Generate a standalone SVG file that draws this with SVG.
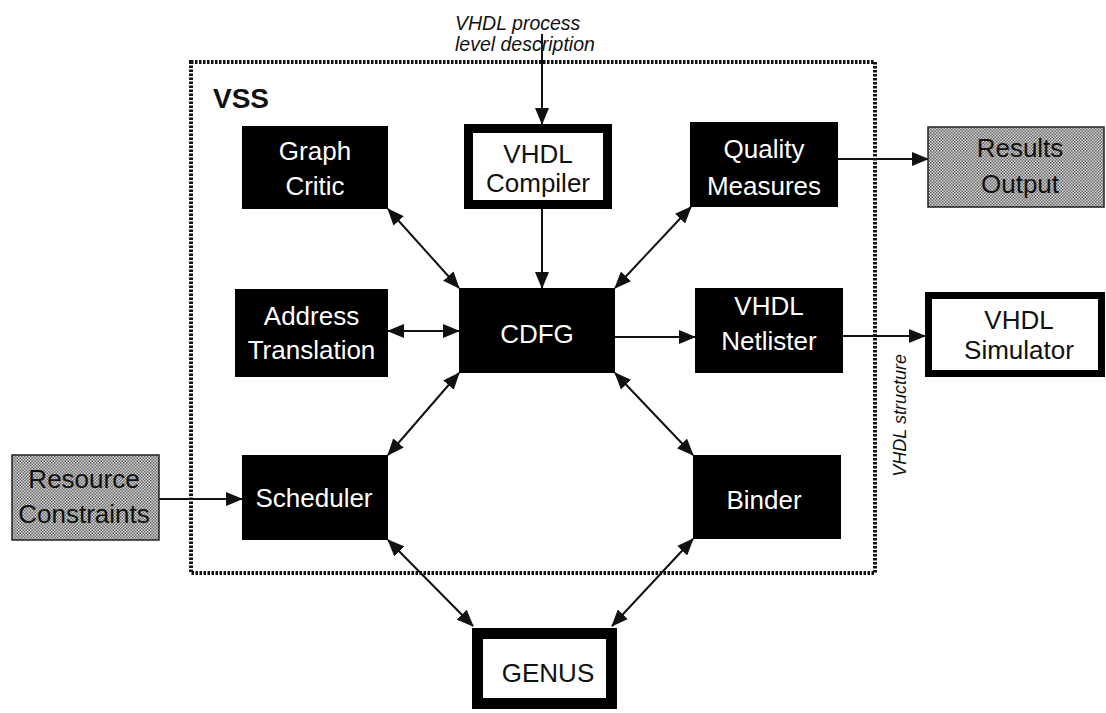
<svg xmlns="http://www.w3.org/2000/svg" width="1106" height="713" viewBox="0 0 1106 713">
<style>
.blk{fill:#000}
.lbl{font-family:"Liberation Sans",Arial,sans-serif;font-size:26px;text-anchor:middle}
.w{fill:#fff}
.k{fill:#111}
.it{font-family:"Liberation Sans",Arial,sans-serif;font-style:italic;fill:#111}
.c{stroke:#111;stroke-width:2;fill:none}
.one{marker-end:url(#ah)}
.two{marker-start:url(#ah);marker-end:url(#ah)}
</style>
<defs>
<marker id="ah" markerUnits="userSpaceOnUse" markerWidth="17" markerHeight="14" refX="16" refY="7" orient="auto-start-reverse" viewBox="0 0 17 14">
<path d="M0,0 L17,7 L0,14 z" fill="#111"/>
</marker>
<pattern id="dots" width="3" height="3" patternUnits="userSpaceOnUse">
<rect width="3" height="3" fill="#d2d2d2"/>
<rect width="1.5" height="1.5" fill="#6a6a6a"/>
<rect x="1.5" y="1.5" width="1.5" height="1.5" fill="#6a6a6a"/>
</pattern>
</defs>
<rect width="1106" height="713" fill="#fff"/>

<g id="vss-frame">
<rect x="191" y="62" width="684" height="511" fill="none" stroke="#111" stroke-width="4" stroke-dasharray="2.5 1.5"/>
<text x="213" y="108" font-family="Liberation Sans,Arial,sans-serif" font-size="28" font-weight="bold" fill="#111">VSS</text>
</g>

<g id="input-label">
<text class="it" font-size="19.5" x="455" y="30">VHDL process</text>
<text class="it" font-size="19.5" x="455" y="51">level description</text>
</g>

<g id="vhdl-structure-label">
<text class="it" font-size="18" transform="translate(906,354) rotate(-90)" text-anchor="end">VHDL structure</text>
</g>

<g id="connectors">
<line class="c one" x1="542" y1="34" x2="542" y2="124"/>
<line class="c one" x1="542" y1="209" x2="542" y2="288"/>
<line class="c two" x1="388" y1="209" x2="459" y2="288"/>
<line class="c two" x1="691" y1="207" x2="615" y2="288"/>
<line class="c one" x1="838" y1="159" x2="928" y2="159"/>
<line class="c two" x1="388" y1="331" x2="459" y2="331"/>
<line class="c one" x1="615" y1="337" x2="695" y2="337"/>
<line class="c one" x1="843" y1="336" x2="925" y2="336"/>
<line class="c two" x1="459" y1="373" x2="388" y2="455"/>
<line class="c two" x1="615" y1="373" x2="693" y2="455"/>
<line class="c one" x1="159" y1="499" x2="242" y2="499"/>
<line class="c two" x1="388" y1="540" x2="473" y2="626"/>
<line class="c two" x1="693" y1="539" x2="612" y2="626"/>
</g>

<g id="graph-critic">
<rect class="blk" x="242" y="126" width="146" height="83"/>
<text class="lbl w" x="315" y="160">Graph</text>
<text class="lbl w" x="315" y="195">Critic</text>
</g>

<g id="vhdl-compiler">
<rect x="468.5" y="128.5" width="139" height="76" fill="#fff" stroke="#000" stroke-width="9"/>
<text class="lbl k" x="538" y="163" font-size="27">VHDL</text>
<text class="lbl k" x="538" y="192" font-size="27">Compiler</text>
</g>

<g id="quality-measures">
<rect class="blk" x="690" y="122" width="148" height="85"/>
<text class="lbl w" x="764" y="158">Quality</text>
<text class="lbl w" x="764" y="195">Measures</text>
</g>

<g id="results-output">
<rect x="928" y="127" width="176" height="80" fill="url(#dots)" stroke="#222" stroke-width="1.5"/>
<text class="lbl k" x="1020" y="157">Results</text>
<text class="lbl k" x="1020" y="193">Output</text>
</g>

<g id="address-translation">
<rect class="blk" x="235" y="289" width="153" height="88"/>
<text class="lbl w" x="311.5" y="325">Address</text>
<text class="lbl w" x="311.5" y="359">Translation</text>
</g>

<g id="cdfg">
<rect class="blk" x="459" y="288" width="156" height="85"/>
<text class="lbl w" x="537" y="343">CDFG</text>
</g>

<g id="vhdl-netlister">
<rect class="blk" x="695" y="288" width="148" height="85"/>
<text class="lbl w" x="769" y="315">VHDL</text>
<text class="lbl w" x="769" y="350">Netlister</text>
</g>

<g id="vhdl-simulator">
<rect x="928.5" y="295.5" width="173" height="78" fill="#fff" stroke="#000" stroke-width="7"/>
<text class="lbl k" x="1019" y="329">VHDL</text>
<text class="lbl k" x="1019" y="359">Simulator</text>
</g>

<g id="resource-constraints">
<rect x="12" y="455" width="147" height="85" fill="url(#dots)" stroke="#222" stroke-width="1.5"/>
<text class="lbl k" x="84" y="488">Resource</text>
<text class="lbl k" x="84" y="523">Constraints</text>
</g>

<g id="scheduler">
<rect class="blk" x="242" y="455" width="146" height="85"/>
<text class="lbl w" x="314" y="507">Scheduler</text>
</g>

<g id="binder">
<rect class="blk" x="693" y="455" width="148" height="84"/>
<text class="lbl w" x="764" y="509">Binder</text>
</g>

<g id="genus">
<rect x="477.5" y="633.5" width="134" height="70" fill="#fff" stroke="#000" stroke-width="11"/>
<text class="lbl k" x="548" y="682">GENUS</text>
</g>
</svg>
